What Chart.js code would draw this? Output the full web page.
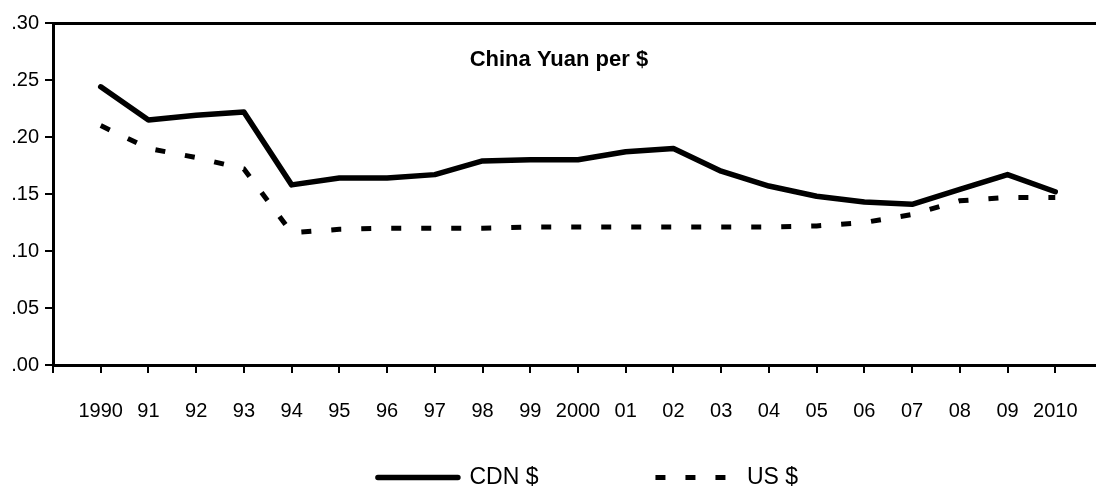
<!DOCTYPE html>
<html>
<head>
<meta charset="utf-8">
<script src="https://cdn.jsdelivr.net/npm/chart.js@4/dist/chart.umd.min.js"></script>
<style>
  html, body { margin: 0; padding: 0; background: #fff; overflow: hidden; }
  #wrap { width: 1096px; height: 487px; overflow: hidden; }
</style>
</head>
<body>
<div id="wrap"><canvas id="chartCanvas" width="1129" height="487"></canvas></div>
<script>
let yearLabels = ['1990', '91', '92', '93', '94', '95', '96', '97', '98', '99', '2000',
    '01', '02', '03', '04', '05', '06', '07', '08', '09', '2010'];
let cdnValues = [0.244, 0.215, 0.219, 0.222, 0.158, 0.164, 0.164, 0.167, 0.179, 0.180, 0.180,
    0.187, 0.190, 0.170, 0.157, 0.148, 0.143, 0.141, 0.154, 0.167, 0.152];
let usValues = [0.210, 0.190, 0.182, 0.172, 0.116, 0.119, 0.120, 0.120, 0.120, 0.121, 0.121,
    0.121, 0.121, 0.121, 0.121, 0.122, 0.125, 0.132, 0.144, 0.147, 0.147];
let yTicks = [0, 0.05, 0.10, 0.15, 0.20, 0.25, 0.30];
let chartTitle = 'China Yuan per $';

// where the title sits, in data units
const titleAt = {x: 9.6, y: 0.268};

function toPoints(values) {
    return values.map((v, i) => ({x: i, y: v}));
}

Chart.defaults.font.family = '"Liberation Sans", Arial, sans-serif';
Chart.defaults.color = '#000';

// title drawn inside the plot area
const innerTitle = {
    id: 'innerTitle',
    afterDatasetsDraw(chart) {
        const ctx = chart.ctx;
        ctx.save();
        ctx.font = 'bold 22px "Liberation Sans", Arial, sans-serif';
        ctx.fillStyle = '#000';
        ctx.textAlign = 'center';
        ctx.textBaseline = 'middle';
        ctx.fillText(chartTitle,
            chart.scales.x.getPixelForValue(titleAt.x),
            chart.scales.y.getPixelForValue(titleAt.y));
        ctx.restore();
    }
};

const pad = ' '.repeat(18);

new Chart(document.getElementById('chartCanvas'), {
    type: 'line',
    data: {
        datasets: [
            {
                label: 'CDN $' + pad,
                data: toPoints(cdnValues),
                borderColor: '#000',
                backgroundColor: '#000',
                borderWidth: 5.5,
                borderCapStyle: 'round',
                borderJoinStyle: 'round',
                pointRadius: 0,
                tension: 0
            },
            {
                label: 'US $',
                data: toPoints(usValues),
                borderColor: '#000',
                backgroundColor: '#000',
                borderWidth: 5,
                borderDash: [10, 20],
                borderCapStyle: 'butt',
                pointRadius: 0,
                tension: 0
            }
        ]
    },
    options: {
        responsive: false,
        devicePixelRatio: 1,
        animation: false,
        // negative right padding only widens the legend row, which moves it right
        layout: {padding: {top: 23, right: -47, left: 0, bottom: -12}},
        plugins: {
            tooltip: {enabled: false},
            legend: {
                position: 'bottom',
                labels: {
                    font: {size: 23},
                    boxWidth: 80,
                    boxHeight: 0,
                    padding: 2,
                    color: '#000'
                }
            }
        },
        scales: {
            x: {
                type: 'linear',
                min: -1,
                max: 21,
                afterBuildTicks(scale) {
                    scale.ticks = [];
                    for (let i = -1; i <= 21; i++) scale.ticks.push({value: i});
                },
                afterFit(scale) { scale.height = 99; },
                ticks: {
                    autoSkip: false,
                    maxRotation: 0,
                    padding: 26,
                    font: {size: 20},
                    callback: (v) => yearLabels[v] !== undefined ? yearLabels[v] : ''
                },
                grid: {
                    drawOnChartArea: false,
                    drawTicks: true,
                    tickLength: 8,
                    color: '#000',
                    lineWidth: 2
                },
                border: {display: true, color: '#000', width: 3}
            },
            xTop: {
                type: 'linear',
                position: 'top',
                min: -1,
                max: 21,
                afterFit(scale) { scale.height = 0; },
                ticks: {display: false},
                grid: {display: false},
                border: {display: true, color: '#000', width: 3}
            },
            y: {
                min: 0,
                max: 0.30,
                afterBuildTicks(scale) {
                    scale.ticks = yTicks.map(v => ({value: v}));
                },
                afterFit(scale) { scale.width = 53; },
                ticks: {
                    padding: 6,
                    font: {size: 20},
                    callback: (v) => v.toFixed(2).replace(/^0/, '')
                },
                grid: {
                    drawOnChartArea: false,
                    drawTicks: true,
                    tickLength: 8,
                    color: '#000',
                    lineWidth: 2
                },
                border: {display: true, color: '#000', width: 3}
            }
        }
    },
    plugins: [innerTitle]
});
</script>
</body>
</html>
